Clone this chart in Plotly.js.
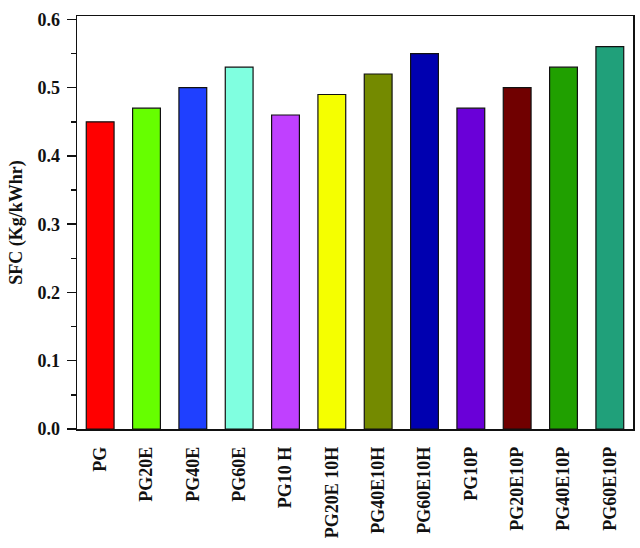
<!DOCTYPE html>
<html>
<head>
<meta charset="utf-8">
<script src="https://cdn.plot.ly/plotly-3.0.1.min.js"></script>
<style>html,body{margin:0;padding:0;background:#fff;}#chart{width:640px;height:548px;}</style>
</head>
<body>
<div id="chart"></div>
<script>
var categories = ["PG","PG20E","PG40E","PG60E","PG10 H","PG20E 10H","PG40E10H","PG60E10H","PG10P","PG20E10P","PG40E10P","PG60E10P"];
var sfcValues = [0.45,0.47,0.50,0.53,0.46,0.49,0.52,0.55,0.47,0.50,0.53,0.56];
var barColors = ["#ff0000","#66ff00","#1f40ff","#80ffe0","#c040ff","#f5ff00","#748a00","#0000b0","#6a00d8","#700000","#20a000","#20a07a"];
var yTickVals = [0.0,0.1,0.2,0.3,0.4,0.5,0.6];
var yTickText = ["0.0","0.1","0.2","0.3","0.4","0.5","0.6"];

var fam = "Liberation Serif, Times New Roman, serif";
function b(s){ return "<b>" + s + "</b>"; }

var trace = {
  type:"bar",
  x: categories,
  y: sfcValues,
  width: 0.6,
  marker:{color:barColors, line:{color:"#111", width:1.2}},
  hoverinfo:"x+y"
};

var layout = {
  width:640, height:548,
  margin:{l:77, r:7, t:16, b:119},
  paper_bgcolor:"#fff", plot_bgcolor:"#fff",
  showlegend:false,
  font:{family:fam, color:"#111", size:17},
  xaxis:{
    type:"category",
    range:[-0.5,11.5],
    tickmode:"array",
    tickvals:categories,
    ticktext:categories.map(b),
    tickangle:-90,
    ticks:"outside", ticklen:9, tickcolor:"rgba(0,0,0,0)",
    showline:true, linecolor:"#111", linewidth:1.5, mirror:true,
    showgrid:false, zeroline:false,
    tickfont:{family:fam, size:18, color:"#111"},
    automargin:false
  },
  yaxis:{
    range:[0,0.605],
    tickvals:yTickVals,
    ticktext:yTickText.map(b),
    ticks:"outside", ticklen:9, tickwidth:1.5, tickcolor:"#111",
    minor:{ticks:"outside", ticklen:5, tickwidth:1.5, tickcolor:"#111", dtick:0.05, showgrid:false},
    ticklabelstandoff:3,
    showline:true, linecolor:"#111", linewidth:1.5, mirror:true,
    showgrid:false, zeroline:false,
    tickfont:{family:fam, size:18, color:"#111"},
    title:{text:b("SFC (Kg/kWhr)"), font:{family:fam, size:18, color:"#111"}, standoff:10},
    automargin:false
  }
};

Plotly.newPlot("chart",[trace],layout,{displayModeBar:false, staticPlot:true});
</script>
</body>
</html>
